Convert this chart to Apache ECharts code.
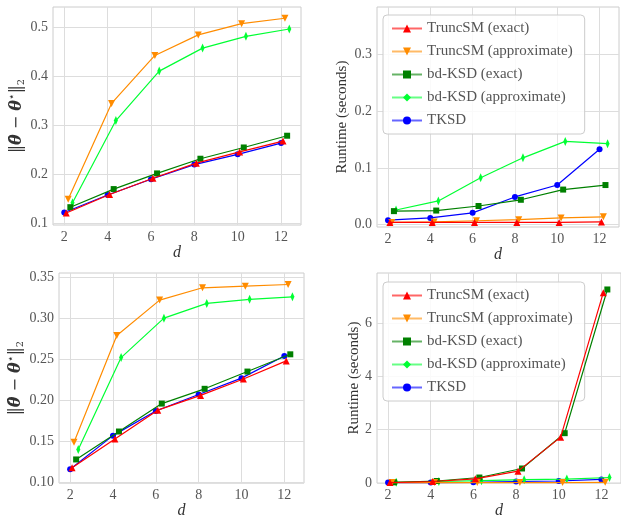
<!DOCTYPE html>
<html>
<head>
<meta charset="utf-8">
<script src="https://cdn.jsdelivr.net/npm/echarts@6/dist/echarts.min.js"></script>
<style>
html,body{margin:0;padding:0;background:#fff;}
#c{width:621px;height:520px;}
</style>
</head>
<body>
<div id="c"></div>
<script>
var dims = [2, 4, 6, 8, 10, 12];
var names = ['TruncSM (exact)', 'TruncSM (approximate)', 'bd-KSD (exact)', 'bd-KSD (approximate)', 'TKSD'];
var offsets = [0.09, 0.18, 0.28, 0.38, 0];

// top left: estimation error
var errA_truncExact = [0.121, 0.159, 0.192, 0.223, 0.246, 0.268];
var errA_truncApprox = [0.149, 0.345, 0.443, 0.485, 0.508, 0.519];
var errA_bdExact = [0.133, 0.170, 0.202, 0.232, 0.255, 0.279];
var errA_bdApprox = [0.142, 0.310, 0.411, 0.458, 0.482, 0.497];
var errA_tksd = [0.122, 0.158, 0.190, 0.220, 0.241, 0.264];

// top right: runtime
var timeA_truncExact = [0.004, 0.004, 0.004, 0.004, 0.004, 0.005];
var timeA_truncApprox = [0.004, 0.005, 0.007, 0.009, 0.012, 0.014];
var timeA_bdExact = [0.024, 0.025, 0.033, 0.044, 0.062, 0.070];
var timeA_bdApprox = [0.026, 0.042, 0.083, 0.118, 0.147, 0.143];
var timeA_tksd = [0.008, 0.012, 0.021, 0.049, 0.070, 0.133];

// bottom left: estimation error
var errB_truncExact = [0.118, 0.153, 0.188, 0.206, 0.226, 0.248];
var errB_truncApprox = [0.149, 0.279, 0.322, 0.337, 0.339, 0.341];
var errB_bdExact = [0.128, 0.162, 0.196, 0.214, 0.235, 0.256];
var errB_bdApprox = [0.140, 0.252, 0.300, 0.318, 0.323, 0.326];
var errB_tksd = [0.116, 0.157, 0.187, 0.207, 0.227, 0.254];

// bottom right: runtime
var timeB_truncExact = [0.01, 0.05, 0.15, 0.44, 1.72, 7.16];
var timeB_truncApprox = [0.01, 0.01, 0.01, 0.01, 0.01, 0.02];
var timeB_bdExact = [0.02, 0.07, 0.20, 0.54, 1.87, 7.28];
var timeB_bdApprox = [0.02, 0.05, 0.08, 0.12, 0.14, 0.20];
var timeB_tksd = [0.01, 0.01, 0.02, 0.05, 0.07, 0.13];

var yTicksErrA = [0.1, 0.2, 0.3, 0.4, 0.5];
var yTicksTimeA = [0, 0.1, 0.2, 0.3];
var yTicksErrB = [0.10, 0.15, 0.20, 0.25, 0.30, 0.35];
var yTicksTimeB = [0, 2, 4, 6];

var colors = ['#ff0000', '#ff8c00', '#008000', '#00ff33', '#0000ff'];
var symbols = ['triangle', 'triangle', 'rect', 'diamond', 'circle'];
var symRot = [0, 180, 0, 0, 0];
var symSize = [7, 7, 6, [4, 9], 6];

var font = '"Liberation Serif", "DejaVu Serif", serif';
var mathFont = '"DejaVu Serif", serif';
var txt = '#555';

var panels = [
    [errA_truncExact, errA_truncApprox, errA_bdExact, errA_bdApprox, errA_tksd],
    [timeA_truncExact, timeA_truncApprox, timeA_bdExact, timeA_bdApprox, timeA_tksd],
    [errB_truncExact, errB_truncApprox, errB_bdExact, errB_bdApprox, errB_tksd],
    [timeB_truncExact, timeB_truncApprox, timeB_bdExact, timeB_bdApprox, timeB_tksd]
];

var grids = [
    {left: 53, top: 7, width: 248, height: 218},
    {left: 377, top: 7, width: 242, height: 220},
    {left: 59, top: 273, width: 245, height: 216},
    {left: 377, top: 273, width: 245, height: 216}
];
grids.forEach(function(g) {
    g.show = true; g.borderColor = '#cccccc'; g.borderWidth = 1; g.backgroundColor = '#fff';
});

var errName = '{n|‖}{b|θ̂}{n| − }{b|θ}{sup|⋆}{n|‖}{sub|2}';
var errRich = {
    n: {fontFamily: mathFont, fontSize: 16, color: '#333', lineHeight: 20},
    b: {fontFamily: mathFont, fontSize: 16, fontWeight: 'bold', fontStyle: 'italic', color: '#333', lineHeight: 20},
    sup: {fontFamily: '"DejaVu Sans", sans-serif', fontSize: 11, color: '#333', verticalAlign: 'top', lineHeight: 20},
    sub: {fontFamily: mathFont, fontSize: 10, color: '#333', verticalAlign: 'bottom', lineHeight: 20}
};

var yAxisSpec = [
    {min: 0.0966, max: 0.542, ticks: yTicksErrA, fmt: function(v){return v.toFixed(1);}, name: errName, gap: 16},
    {min: -0.004, max: 0.384, ticks: yTicksTimeA, fmt: function(v){return v.toFixed(1);}, name: 'Runtime (seconds)', gap: 27},
    {min: 0.0992, max: 0.355, ticks: yTicksErrB, fmt: function(v){return v.toFixed(2);}, name: errName, gap: 24},
    {min: -0.01, max: 7.9, ticks: yTicksTimeB, fmt: function(v){return String(v);}, name: 'Runtime (seconds)', gap: 14}
];

var xAxes = [], yAxes = [], series = [];
for (var p = 0; p < 4; p++) {
    xAxes.push({
        type: 'value', gridIndex: p, min: 1.48, max: 12.92,
        name: 'd', nameLocation: 'middle', nameGap: 18,
        nameTextStyle: {fontFamily: font, fontStyle: 'italic', fontSize: 16, color: '#333'},
        axisLine: {show: false}, axisTick: {show: false, customValues: dims},
        axisLabel: {customValues: dims, fontFamily: font, fontSize: 14, color: txt, margin: 5},
        splitLine: {show: true, lineStyle: {color: '#dddddd', width: 1}}
    });
    var ys = yAxisSpec[p];
    yAxes.push({
        type: 'value', gridIndex: p, min: ys.min, max: ys.max,
        name: ys.name, nameLocation: 'middle', nameGap: ys.gap, nameRotate: 90,
        nameTextStyle: {fontFamily: font, fontSize: 15, color: '#333', rich: errRich},
        axisLine: {show: false}, axisTick: {show: false, customValues: ys.ticks},
        axisLabel: {customValues: ys.ticks, formatter: ys.fmt, fontFamily: font, fontSize: 14, color: txt, margin: 5},
        splitLine: {show: true, lineStyle: {color: '#dddddd', width: 1}}
    });
    for (var s = 0; s < 5; s++) {
        var vals = panels[p][s];
        series.push({
            name: names[s], type: 'line', xAxisIndex: p, yAxisIndex: p,
            data: dims.map(function(d, i) { return [d + offsets[s], vals[i]]; }),
            symbol: symbols[s], symbolRotate: symRot[s], symbolSize: symSize[s],
            showAllSymbol: true, animation: false,
            lineStyle: {color: colors[s], width: 1.2},
            itemStyle: {color: colors[s]},
            z: 10 - s
        });
    }
}

function legendAt(top) {
    return {
        data: names, orient: 'vertical', left: 383, top: top,
        itemWidth: 30, itemHeight: 10, itemGap: 8,
        padding: [6, 12, 6, 8],
        backgroundColor: 'rgba(255,255,255,0.85)', borderColor: '#cccccc', borderWidth: 1, borderRadius: 4,
        textStyle: {fontFamily: font, fontSize: 15, color: txt},
        lineStyle: {opacity: 0.6},
        selectedMode: false
    };
}

var chart = echarts.init(document.getElementById('c'));
chart.setOption({
    animation: false,
    grid: grids,
    xAxis: xAxes,
    yAxis: yAxes,
    legend: [legendAt(15), legendAt(282)],
    series: series
});
</script>
</body>
</html>
